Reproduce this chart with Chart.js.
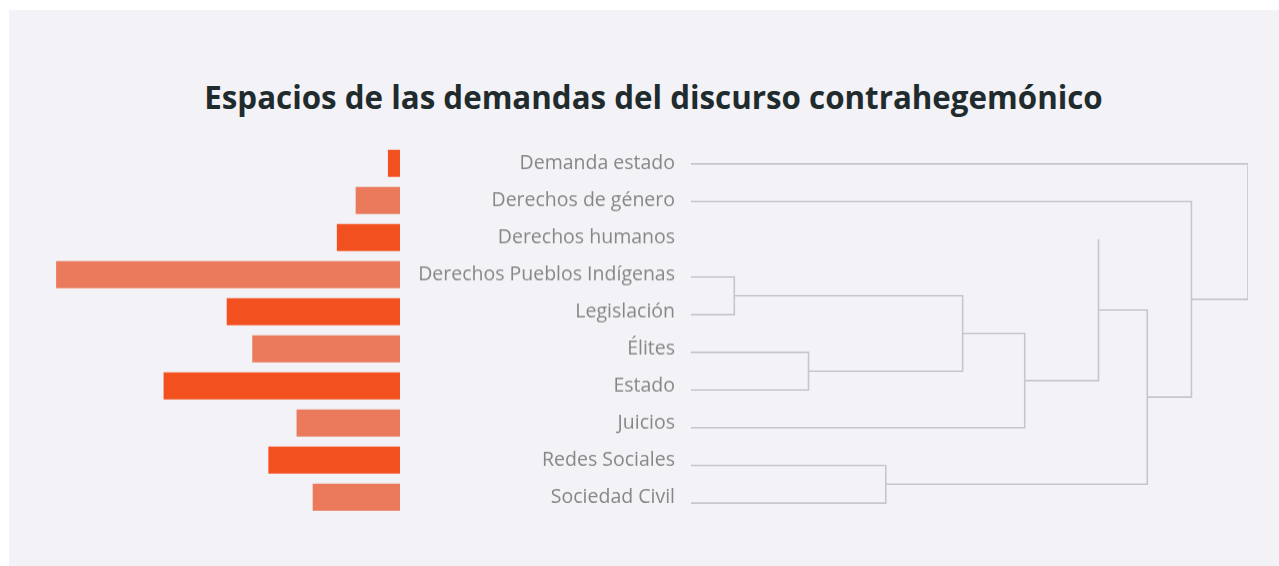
<!DOCTYPE html>
<html lang="es">
<head>
<meta charset="utf-8">
<title>Espacios de las demandas del discurso contrahegemónico</title>
<script src="https://cdn.jsdelivr.net/npm/chart.js@4.4.1/dist/chart.umd.min.js"></script>
<style>
  html, body { margin: 0; padding: 0; background: #ffffff; overflow: hidden; }
  body { width: 1279px; height: 566px; position: relative; }
  #panel { position: absolute; left: 9px; top: 10px; width: 1270px; height: 556px; background: #f3f2f7; }
  #titulo {
    position: absolute; left: 28px; top: 79px; width: 1251px;
    text-align: center; font-family: "Open Sans", sans-serif; font-weight: 700;
    font-size: 31.3px; line-height: 36px; color: #1f2b2d; margin: 0;
  }
  /* la altura incluye el medio alto de la etiqueta arriba y abajo que Chart.js reserva */
  #wrapBarras { position: absolute; left: 40px; top: 133.3px; width: 635px; height: 393.4px; }
  #wrapDendro { position: absolute; left: 691px; top: 144.5px; width: 557px; height: 377px; }
</style>
</head>
<body>
<div id="panel"></div>
<h1 id="titulo">Espacios de las demandas del discurso contrahegemónico</h1>
<div id="wrapBarras"><canvas id="barras"></canvas></div>
<div id="wrapDendro"><canvas id="dendro"></canvas></div>

<script>
// ---------- datos ----------
const categorias = [
    'Demanda estado',
    'Derechos de género',
    'Derechos humanos',
    'Derechos Pueblos Indígenas',
    'Legislación',
    'Élites',
    'Estado',
    'Juicios',
    'Redes Sociales',
    'Sociedad Civil'
];

// peso de cada espacio (%)
const valores = [0.9, 3.3, 4.7, 25.6, 12.9, 11.0, 17.6, 7.7, 9.8, 6.5];

// enlaces del dendrograma: [hijo izquierdo, hijo derecho, distancia]
// 0-9 son las hojas, 10 en adelante los grupos formados en orden
const enlaces = [
    [3, 4, 4.33],     // 10
    [5, 6, 11.76],    // 11
    [10, 11, 27.18],  // 12
    [8, 9, 19.49],    // 13
    [12, 7, 33.39],   // 14
    [2, 14, 40.77],   // 15
    [15, 13, 45.65],  // 16
    [1, 16, 50.07],   // 17
    [0, 17, 55.73]    // 18
];

// hojas cuya rama horizontal no aparece en el original
const ramasOcultas = [2];

const colorOscuro = '#f2511f';
const colorClaro = '#ea7a5b';
const colorLinea = '#c6c6cc';
const colorTexto = '#868686';

// ---------- barras + etiquetas ----------
new Chart(document.getElementById('barras'), {
    type: 'bar',
    data: {
        labels: categorias,
        datasets: [{
            data: valores,
            backgroundColor: valores.map((v, i) => i % 2 === 0 ? colorOscuro : colorClaro),
            barPercentage: 0.73,
            categoryPercentage: 1
        }]
    },
    options: {
        indexAxis: 'y',
        responsive: true,
        maintainAspectRatio: false,
        animation: false,
        layout: { padding: 0 },
        plugins: { legend: { display: false }, tooltip: { enabled: false } },
        scales: {
            x: { display: false, reverse: true, min: 0, max: 26.8 },
            y: {
                position: 'right',
                grid: { display: false, drawTicks: false },
                border: { display: false },
                ticks: {
                    crossAlign: 'far',
                    padding: 0,
                    color: colorTexto,
                    font: { family: 'Open Sans', size: 19.5 }
                },
                afterFit: s => { s.width = 275; }
            }
        }
    }
});

// ---------- dendrograma ----------
// posición de cada nodo: hojas en su fila, grupos en el punto medio de sus hijos
const nodoY = categorias.map((c, i) => i);
const nodoH = categorias.map(() => 0);
enlaces.forEach(([a, b, d]) => {
    nodoY.push((nodoY[a] + nodoY[b]) / 2);
    nodoH.push(d);
});

const lineas = enlaces.map(([a, b, d]) => {
    const pts = [];
    if (!ramasOcultas.includes(a)) pts.push({ x: nodoH[a], y: nodoY[a] });
    pts.push({ x: d, y: nodoY[a] }, { x: d, y: nodoY[b] });
    if (!ramasOcultas.includes(b)) pts.push({ x: nodoH[b], y: nodoY[b] });
    return {
        data: pts,
        showLine: true,
        borderColor: colorLinea,
        borderWidth: 1.6,
        pointRadius: 0,
        clip: false
    };
});

new Chart(document.getElementById('dendro'), {
    type: 'scatter',
    data: { datasets: lineas },
    options: {
        responsive: true,
        maintainAspectRatio: false,
        animation: false,
        layout: { padding: 0 },
        plugins: { legend: { display: false }, tooltip: { enabled: false } },
        scales: {
            x: { display: false, min: 0, max: 55.73 },
            y: { display: false, reverse: true, min: -0.5, max: 9.5 }
        }
    }
});
</script>
</body>
</html>
